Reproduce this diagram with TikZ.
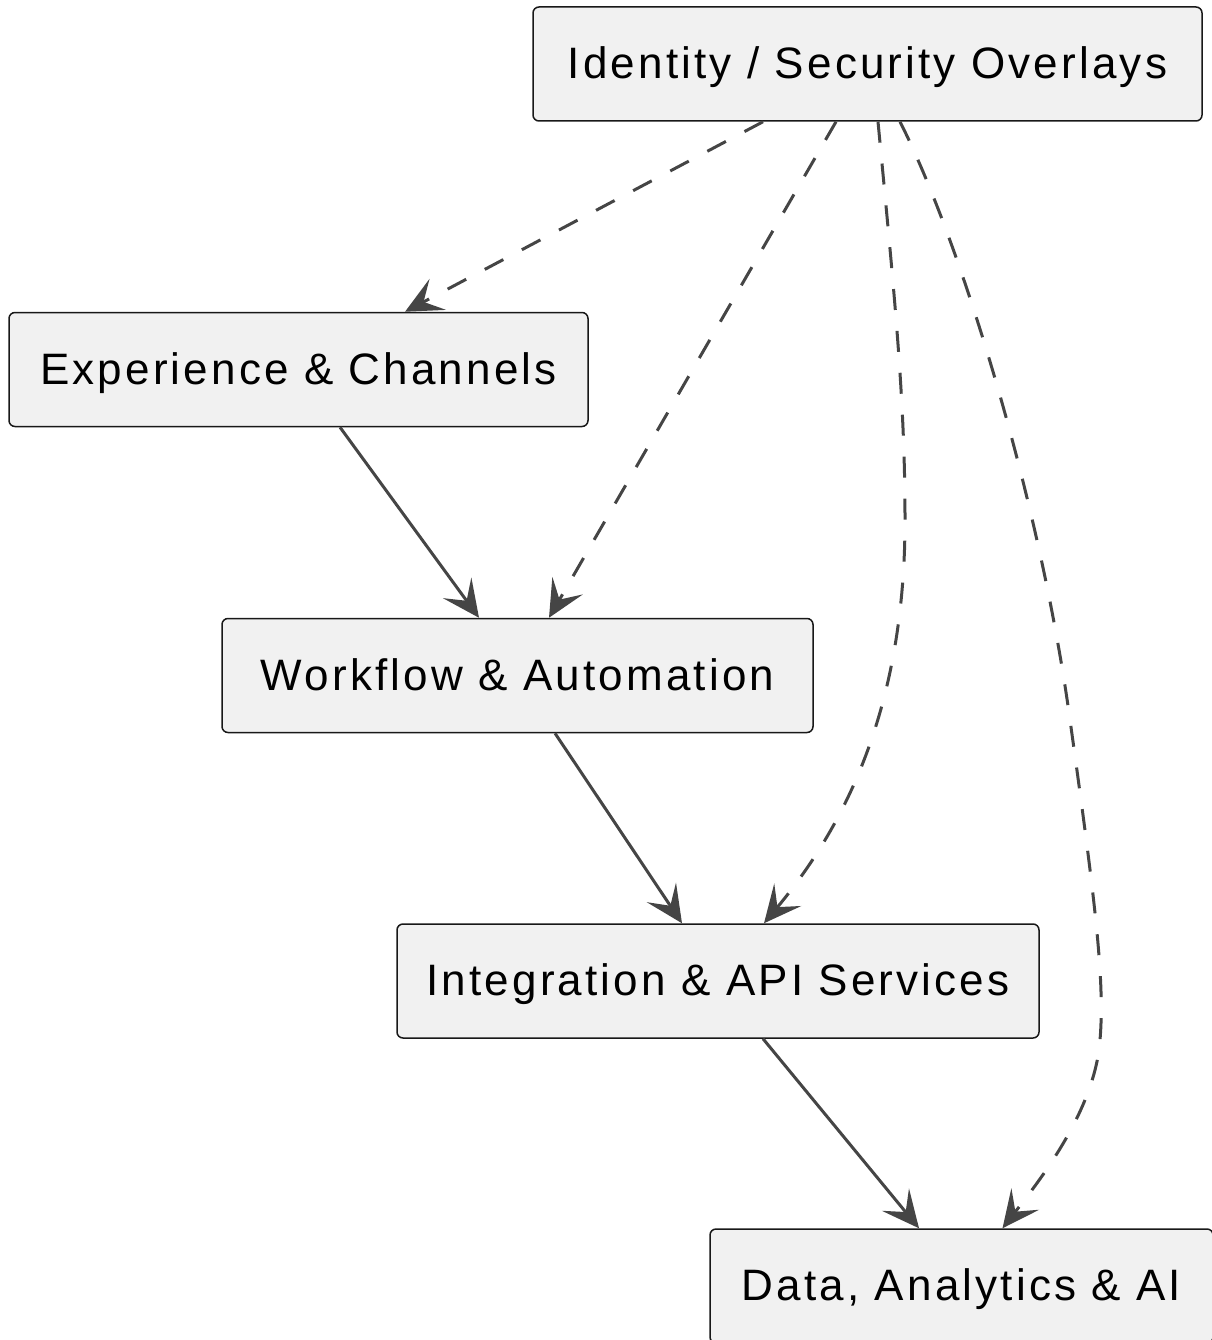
\documentclass[tikz,border=0pt]{standalone}
\usepackage{fontspec}
\setmainfont{Liberation Sans}[LetterSpace=7.2]
\usetikzlibrary{arrows.meta}
\definecolor{boxfill}{HTML}{F1F1F1}
\definecolor{boxline}{HTML}{181818}
\definecolor{arrowcol}{HTML}{454545}
\begin{document}
\begin{tikzpicture}[x=1pt,y=-1pt,
  layerbox/.style={draw=boxline, fill=boxfill, line width=1.5pt, rounded corners=6pt,
    minimum height=114pt, inner sep=0pt, text height=33pt, text depth=3.5pt,
    font=\fontsize{44}{50}\selectfont, text=black},
  conn/.style={draw=arrowcol, line width=3pt,
    -{Stealth[length=37pt, width=35pt, inset=16pt, fill=arrowcol]}},
  dashconn/.style={conn, dash pattern=on 21pt off 21pt}
]
\useasboundingbox (0,0) rectangle (1211,1340);

\node[layerbox, minimum width=669pt] (idn) at (867.5,64) {Identity / Security Overlays};
\node[layerbox, minimum width=579pt] (exp) at (298.5,369.5) {Experience \& Channels};
\node[layerbox, minimum width=591pt] (wf) at (517.5,675.5) {Workflow \& Automation};
\node[layerbox, minimum width=642pt] (int) at (718,981) {Integration \& API Services};
\node[layerbox, minimum width=503pt] (data) at (961.5,1286) {Data, Analytics \& AI};

% solid flows
\draw[conn] ([xshift=41.5pt]exp.south) -- ([xshift=-38.5pt]wf.north);
\draw[conn] ([xshift=37.5pt]wf.south) -- ([xshift=-36pt]int.north);
\draw[conn] ([xshift=45pt]int.south) -- ([xshift=-42.5pt]data.north);

% dashed overlays
\draw[dashconn] ([xshift=-104.5pt]idn.south) -- ([xshift=106.5pt]exp.north);
\draw[dashconn] ([xshift=-31.5pt]idn.south) -- ([xshift=31.5pt]wf.north);
\draw[dashconn] ([xshift=10.5pt]idn.south)
  .. controls (895,300) and (905,400) .. (905,520)
  .. controls (905,700) and (850,820) .. ([xshift=46pt]int.north);
\draw[dashconn] ([xshift=32.5pt]idn.south)
  .. controls (960,240) and (1040,500) .. (1070,720)
  .. controls (1095,900) and (1105,980) .. (1100,1040)
  .. controls (1095,1110) and (1040,1180) .. ([xshift=41pt]data.north);
\end{tikzpicture}
\end{document}
